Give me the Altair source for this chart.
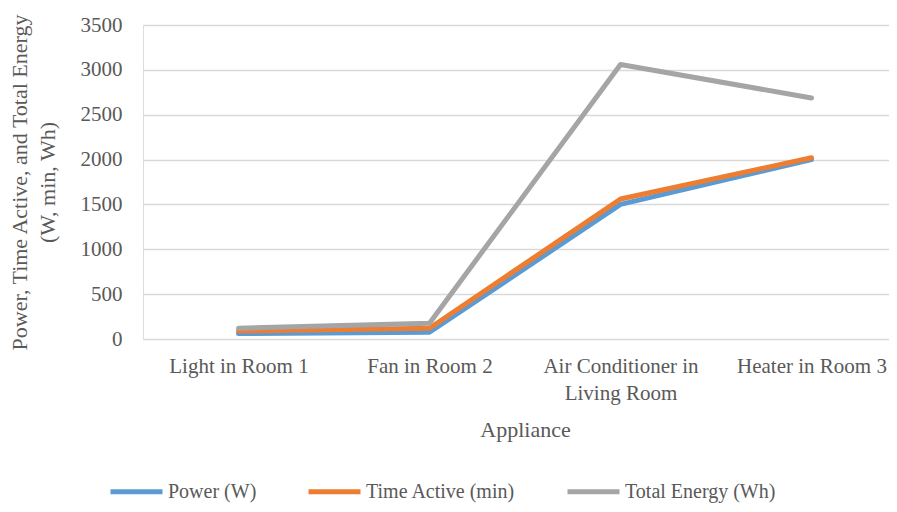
import altair as alt
import pandas as pd

appliances = ["Light in Room 1", "Fan in Room 2", "Air Conditioner in Living Room", "Heater in Room 3"]
series = ["Power (W)", "Time Active (min)", "Total Energy (Wh)"]
power = [60, 75, 1500, 2000]
time_active = [30, 45, 60, 20]
total_energy = [30, 56.25, 1500, 666.67]
colors = ["#5B9BD5", "#ED7D31", "#A5A5A5"]
y_ticks = [0, 500, 1000, 1500, 2000, 2500, 3000, 3500]

rows = []
for s_idx, (name, vals) in enumerate(zip(series, [power, time_active, total_energy])):
    for a_idx, (app, v) in enumerate(zip(appliances, vals)):
        rows.append({"Appliance": app, "Series": name, "value": v, "sidx": s_idx, "aidx": a_idx})
df = pd.DataFrame(rows)

FONT = "Liberation Serif"
TXT = "#595959"

label_expr = ("datum.value == 0 ? 'Light in Room 1' : datum.value == 1 ? 'Fan in Room 2' : "
              "datum.value == 2 ? ['Air Conditioner in', 'Living Room'] : 'Heater in Room 3'")

W = 746
STEP = 191.0

chart = alt.Chart(df).transform_stack(
    stack="value", groupby=["Appliance"], sort=[{"field": "sidx", "order": "ascending"}],
    as_=["y0", "y1"]
).mark_line(strokeWidth=5, strokeCap="round", strokeJoin="round").encode(
    x=alt.X("aidx:Q",
            scale=alt.Scale(domain=[-0.5, -0.5 + W / STEP], nice=False, zero=False),
            axis=alt.Axis(title="Appliance", values=[0, 1, 2, 3], labelExpr=label_expr,
                          labelAngle=0, labelFont=FONT, labelFontSize=21, labelColor=TXT,
                          labelLineHeight=27, labelPadding=16, labelBaseline="top",
                          labelFlush=False, labelOverlap=False,
                          titleFont=FONT, titleFontSize=22, titleColor=TXT,
                          titleFontWeight="normal", titlePadding=16, titleX=382,
                          ticks=False, domain=False, grid=False)),
    y=alt.Y("y1:Q", scale=alt.Scale(domain=[0, 3500], nice=False),
            axis=alt.Axis(title=["Power, Time Active, and Total Energy", "(W, min, Wh)"],
                          values=y_ticks, format="d", labelFont=FONT, labelFontSize=21,
                          labelColor=TXT, labelPadding=21, ticks=False, domain=False,
                          grid=True, gridColor="#D9D9D9", gridWidth=1.3,
                          titleFont=FONT, titleFontSize=22, titleColor=TXT,
                          titleFontWeight="normal", titleLineHeight=28, titlePadding=21)),
    color=alt.Color("Series:N", sort=series,
                    scale=alt.Scale(domain=series, range=colors),
                    legend=alt.Legend(title=None, orient="none", direction="horizontal",
                                      legendX=-35, legendY=438,
                                      symbolType="stroke", symbolStrokeWidth=5,
                                      symbolSize=2704, labelFont=FONT, labelFontSize=20,
                                      labelColor=TXT, labelOffset=3, columnPadding=41,
                                      padding=0)),
    detail="Series:N",
    order=alt.Order("aidx:Q"),
).properties(
    width=W, height=314,
    autosize=alt.AutoSizeParams(type="none"),
    padding={"left": 135, "top": 17, "right": 0, "bottom": 165},
).configure_view(stroke=None).configure(background="white")

chart.save("out.html", embed_options={"renderer": "svg", "actions": False})
